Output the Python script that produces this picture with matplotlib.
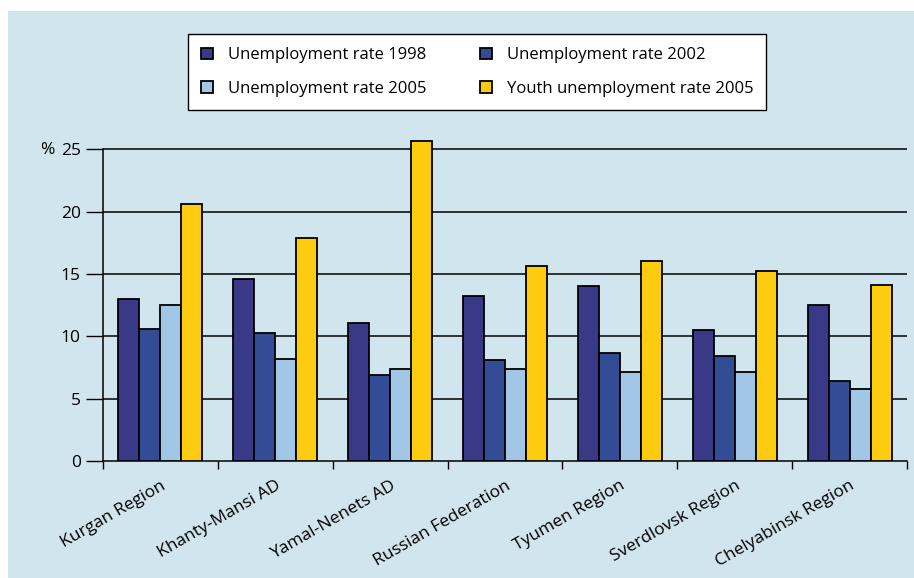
import matplotlib.pyplot as plt
import matplotlib.patches as patches
import numpy as np

plt.rcParams['font.family'] = ['Open Sans', 'DejaVu Sans']

regions = ["Kurgan Region", "Khanty-Mansi AD", "Yamal-Nenets AD",
           "Russian Federation", "Tyumen Region", "Sverdlovsk Region",
           "Chelyabinsk Region"]
series_names = ["Unemployment rate 1998", "Unemployment rate 2002",
                "Unemployment rate 2005", "Youth unemployment rate 2005"]
rate_1998 = [13.0, 14.6, 11.1, 13.2, 14.0, 10.5, 12.5]
rate_2002 = [10.6, 10.3, 6.9, 8.1, 8.7, 8.4, 6.4]
rate_2005 = [12.5, 8.2, 7.4, 7.4, 7.1, 7.1, 5.8]
youth_2005 = [20.6, 17.9, 25.7, 15.6, 16.0, 15.2, 14.1]
yticks = [0, 5, 10, 15, 20, 25]

colors = ["#3a3988", "#334c95", "#a1c6e6", "#fdcb0f"]
bg = "#d1e5ee"

fig = plt.figure(figsize=(9.14, 5.78), dpi=100)
fig.patch.set_facecolor("white")
fig.patches.append(patches.Rectangle((8 / 914, 0), 1, 1 - 11 / 578,
                                     transform=fig.transFigure,
                                     facecolor=bg, edgecolor="none", zorder=-5))

ax = fig.add_axes([103 / 914, 1 - 461 / 578, 804 / 914, (461 - 136.8) / 578])
ax.set_zorder(2)
ax.patch.set_alpha(0)

x = np.arange(len(regions))
w = 0.183
all_series = [rate_1998, rate_2002, rate_2005, youth_2005]
bars = []
for i, (vals, name, c) in enumerate(zip(all_series, series_names, colors)):
    b = ax.bar(x + (i - 1.5) * w, vals, w, color=c, edgecolor="black",
               linewidth=1.3, label=name, zorder=3)
    bars.append(b)

ax.set_xlim(-0.5, len(regions) - 0.5)
ax.set_ylim(0, 26)
ax.set_yticks(yticks)
ax.set_yticklabels([str(t) for t in yticks], fontsize=12.5)
for t in yticks[1:]:
    ax.axhline(t, color="black", lw=1.1, zorder=1)

ax.set_xticks(np.arange(len(regions) + 1) - 0.5, minor=False)
ax.set_xticklabels([])
ax.set_xticks(x, minor=True)
ax.set_xticklabels(regions, minor=True, rotation=30, ha="right",
                   rotation_mode="anchor", fontsize=12.5)
ax.tick_params(axis="x", which="major", direction="out", length=6, width=1)
ax.tick_params(axis="x", which="minor", length=0, pad=12)
ax.tick_params(axis="y", direction="out", length=12, width=1, pad=4)

for s in ["top", "right"]:
    ax.spines[s].set_visible(False)
ax.spines["left"].set_bounds(0, 25)
ax.spines["left"].set_linewidth(1.1)
ax.spines["bottom"].set_linewidth(1.1)

fig.text(40 / 914, 1 - 150 / 578, "%", fontsize=12.5, va="center", ha="left")

# two rows, filled row by row
order = [0, 2, 1, 3]
leg = fig.legend([bars[k] for k in order], [series_names[k] for k in order],
                 loc="upper left", bbox_to_anchor=(188 / 914, 1 - 34 / 578),
                 ncol=2, fontsize=12, frameon=True, fancybox=False,
                 edgecolor="black", facecolor="white", framealpha=1,
                 handlelength=0.7, handleheight=0.7,
                 columnspacing=3.2, borderpad=0.8, labelspacing=1.05,
                 handletextpad=0.9, borderaxespad=0)
leg.get_frame().set_linewidth(1)

fig.savefig("out.png", dpi=100)
